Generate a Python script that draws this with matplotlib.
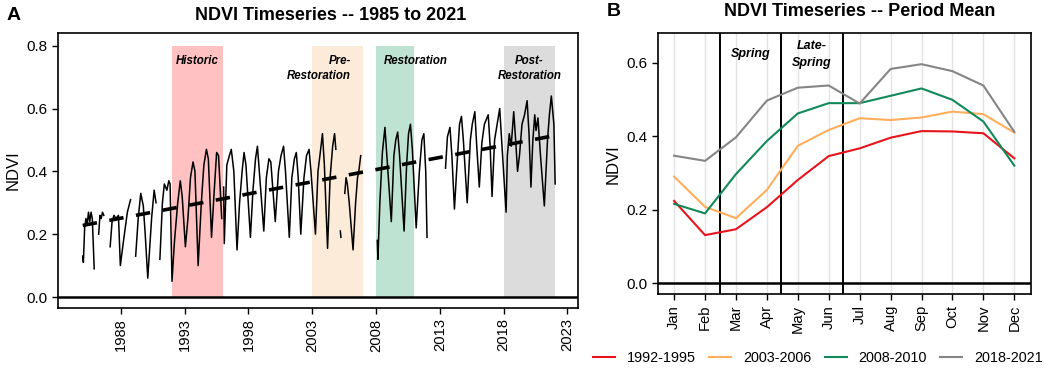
import matplotlib
matplotlib.use("Agg")
import matplotlib.pyplot as plt
import numpy as np

plt.rcParams['font.family'] = ['Liberation Sans', 'DejaVu Sans']

# ---- Panel A: NDVI time series (decimal year, NDVI); NaN breaks the line at data gaps
ts_year = [
    1985.0, 1985.05, 1985.15, 1985.25, 1985.35, 1985.45, 1985.55, 1985.65, 1985.75, 1985.9, np.nan,
    1986.25, 1986.35, 1986.45, 1986.55, 1986.65, np.nan,
    1987.15, 1987.3, 1987.45, 1987.6, 1987.8, 1987.95, 1988.2, 1988.5, 1988.75, np.nan,
    1989.15, 1989.35, 1989.55, 1989.75, 1989.9, 1990.1, 1990.4, 1990.6, 1990.75, np.nan,
    1991.05, 1991.25, 1991.4, 1991.6, 1991.75, 1991.85, 1992.0, 1992.2, 1992.45, 1992.65, 1992.8,
    1993.05, 1993.25, 1993.45, 1993.65, 1993.8, 1994.05, 1994.3, 1994.5, 1994.7, 1994.85,
    1995.1, 1995.3, 1995.5, 1995.65, 1995.9, np.nan,
    1996.05, 1996.1, 1996.3, 1996.5, 1996.65, 1996.85, 1997.1, 1997.3, 1997.5, 1997.65, 1997.8,
    1998.15, 1998.35, 1998.55, 1998.7, 1998.85, 1999.2, 1999.4, 1999.6, 1999.75,
    2000.1, 2000.35, 2000.55, 2000.75, 2000.9, 2001.2, 2001.4, 2001.6, 2001.75, 2001.9,
    2002.1, 2002.35, 2002.55, 2002.75, 2002.9, 2003.25, 2003.45, 2003.6, 2003.8, 2003.95,
    2004.2, 2004.4, 2004.6, 2004.75, 2004.85, np.nan,
    2005.2, 2005.25, np.nan,
    2005.55, 2005.65, 2005.75, 2005.9, 2006.2, 2006.4, 2006.55, 2006.65, 2006.8, np.nan,
    2008.1, 2008.15, 2008.3, 2008.5, 2008.7, 2008.85, 2009.2, 2009.4, 2009.55, 2009.7, 2009.85,
    2010.2, 2010.4, 2010.55, 2010.7, 2010.85, 2011.15, 2011.4, 2011.6, 2011.75, 2011.9, 2012.0, np.nan,
    2013.45, 2013.6, 2013.8, 2013.95, 2014.15, 2014.35, 2014.55, 2014.7, 2014.85,
    2015.15, 2015.4, 2015.55, 2015.75, 2015.9, 2016.1, 2016.3, 2016.5, 2016.8, 2016.95,
    2017.1, 2017.3, 2017.5, 2017.7, 2017.85, 2018.2, 2018.3, 2018.45, 2018.6, 2018.8, 2018.95,
    2019.1, 2019.25, 2019.45, 2019.65, 2019.85, 2020.0, 2020.15, 2020.3, 2020.45, 2020.55, 2020.7,
    2020.9, 2021.2, 2021.45, 2021.6, 2021.75, 2021.95, 2022.05,
]
ts_ndvi = [
    0.13, 0.11, 0.22, 0.25, 0.23, 0.27, 0.24, 0.27, 0.25, 0.09, np.nan,
    0.20, 0.26, 0.25, 0.27, 0.26, np.nan,
    0.16, 0.24, 0.26, 0.25, 0.26, 0.10, 0.18, 0.27, 0.31, np.nan,
    0.13, 0.25, 0.33, 0.29, 0.20, 0.06, 0.25, 0.34, 0.30, np.nan,
    0.12, 0.30, 0.36, 0.34, 0.37, 0.36, 0.05, 0.18, 0.30, 0.37, 0.32,
    0.16, 0.25, 0.38, 0.43, 0.40, 0.10, 0.30, 0.42, 0.47, 0.44,
    0.19, 0.33, 0.46, 0.45, 0.25, np.nan,
    0.35, 0.17, 0.42, 0.45, 0.47, 0.40, 0.15, 0.30, 0.40, 0.46, 0.42,
    0.19, 0.34, 0.44, 0.48, 0.40, 0.21, 0.38, 0.44, 0.43,
    0.24, 0.40, 0.45, 0.48, 0.40, 0.19, 0.38, 0.44, 0.46, 0.38,
    0.20, 0.38, 0.45, 0.47, 0.40, 0.20, 0.40, 0.45, 0.52, 0.42,
    0.155, 0.38, 0.48, 0.52, 0.47, np.nan,
    0.21, 0.19, np.nan,
    0.33, 0.38, 0.36, 0.30, 0.15, 0.30, 0.38, 0.40, 0.45, np.nan,
    0.18, 0.12, 0.30, 0.46, 0.54, 0.45, 0.24, 0.45, 0.50, 0.525, 0.45,
    0.21, 0.42, 0.52, 0.55, 0.47, 0.22, 0.40, 0.50, 0.52, 0.40, 0.19, np.nan,
    0.41, 0.51, 0.54, 0.45, 0.28, 0.42, 0.55, 0.575, 0.50,
    0.30, 0.50, 0.55, 0.59, 0.48, 0.35, 0.49, 0.55, 0.58, 0.48,
    0.32, 0.50, 0.55, 0.60, 0.50, 0.27, 0.45, 0.52, 0.48, 0.59, 0.50,
    0.40, 0.45, 0.55, 0.58, 0.625, 0.52, 0.35, 0.50, 0.58, 0.53, 0.57,
    0.45, 0.29, 0.50, 0.58, 0.64, 0.55, 0.36,
]

periods = ["Historic", "Pre-\nRestoration", "Restoration", "Post-\nRestoration"]
period_start = [1992.0, 2003.0, 2008.0, 2018.0]
period_end = [1996.0, 2007.0, 2011.0, 2022.0]
period_fill = ["#FFC1C1", "#FDEBD9", "#BFE3D3", "#DCDCDC"]

year_ticks = [1988, 1993, 1998, 2003, 2008, 2013, 2018, 2023]

# ---- Panel B: monthly means per period
months = ["Jan", "Feb", "Mar", "Apr", "May", "Jun", "Jul", "Aug", "Sep", "Oct", "Nov", "Dec"]
ndvi_1992_1995 = [0.224, 0.131, 0.147, 0.207, 0.281, 0.346, 0.367, 0.396, 0.414, 0.413, 0.408, 0.340]
ndvi_2003_2006 = [0.290, 0.208, 0.177, 0.254, 0.374, 0.417, 0.449, 0.444, 0.451, 0.467, 0.460, 0.410]
ndvi_2008_2010 = [0.216, 0.190, 0.297, 0.387, 0.462, 0.490, 0.490, 0.510, 0.530, 0.499, 0.440, 0.320]
ndvi_2018_2021 = [0.347, 0.333, 0.397, 0.497, 0.532, 0.538, 0.489, 0.583, 0.596, 0.577, 0.538, 0.412]
series_labels = ["1992-1995", "2003-2006", "2008-2010", "2018-2021"]
series_colors = ["#E8141C", "#FFAE5C", "#11895A", "#858585"]

season_breaks = [2.48, 4.45, 6.45]
season_labels = ["Spring", "Late-\nSpring"]
season_x = [3.46, 5.45]

fig = plt.figure(figsize=(10.45, 3.68), dpi=100)
axA = fig.add_axes([0.0555, 0.163, 0.4976, 0.747])
axB = fig.add_axes([0.6294, 0.2003, 0.3572, 0.7092])

# Panel A
for name, x0, x1, c in zip(periods, period_start, period_end, period_fill):
    axA.fill_between([x0, x1], 0, 0.8, color=c, lw=0, zorder=0)
lab_ha = ["center", "right", "center", "center"]
lab_x = [1994.0, 2006.05, 2011.1, 2020.05]
for name, x, ha in zip(periods, lab_x, lab_ha):
    axA.text(x, 0.77, name, ha=ha, va="top", fontsize=8.3, fontweight="bold",
             fontstyle="italic", linespacing=1.35)

axA.plot(ts_year, ts_ndvi, color="black", lw=1.1, zorder=3)
yr = np.array(ts_year)
nd = np.array(ts_ndvi)
ok = ~np.isnan(nd)
coef = np.polyfit(yr[ok], nd[ok], 1)
trend_x = np.array([yr[ok].min(), 2021.65])
axA.plot(trend_x, np.polyval(coef, trend_x), color="black", lw=2.6,
         linestyle=(0, (4, 3.5)), zorder=4)
axA.axhline(0, color="black", lw=1.8, zorder=2)

axA.set_xlim(1983.06, 2023.84)
axA.set_ylim(-0.035, 0.84)
axA.set_yticks([0.0, 0.2, 0.4, 0.6, 0.8])
axA.set_yticklabels(["0.0", "0.2", "0.4", "0.6", "0.8"])
axA.set_xticks(year_ticks)
axA.set_xticklabels([str(y) for y in year_ticks], rotation=90)
axA.set_ylabel("NDVI", fontsize=12, labelpad=4)

# Panel B
x = np.arange(1, 13)
for m in x:
    axB.axvline(m, color="#E3E3E3", lw=1.0, zorder=0)
for b in season_breaks:
    axB.axvline(b, color="black", lw=1.4, zorder=3)
axB.text(season_x[0], 0.623, season_labels[0], ha="center", va="center", fontsize=9,
         fontweight="bold", fontstyle="italic")
axB.text(season_x[1], 0.623, season_labels[1], ha="center", va="center", fontsize=9,
         fontweight="bold", fontstyle="italic", linespacing=1.5)
axB.axhline(0, color="black", lw=1.8, zorder=2)
for vals, lab, col in zip([ndvi_1992_1995, ndvi_2003_2006, ndvi_2008_2010, ndvi_2018_2021],
                          series_labels, series_colors):
    axB.plot(x, vals, color=col, lw=1.5, label=lab, zorder=4)

axB.set_xlim(0.47, 12.54)
axB.set_ylim(-0.03, 0.68)
axB.set_yticks([0.0, 0.2, 0.4, 0.6])
axB.set_yticklabels(["0.0", "0.2", "0.4", "0.6"])
axB.set_xticks(x)
axB.set_xticklabels(months, rotation=90)
axB.set_ylabel("NDVI", fontsize=12, labelpad=4)

for ax in (axA, axB):
    for s in ax.spines.values():
        s.set_linewidth(1.2)
    ax.tick_params(length=4, width=1.0, color="black", direction="out")
    ax.tick_params(axis="y", labelsize=11)
    ax.tick_params(axis="x", labelsize=10.6)

fig.text(331 / 1045, 1 - 16 / 368, "NDVI Timeseries -- 1985 to 2021", ha="center",
         va="center", fontsize=13, fontweight="bold")
fig.text(860 / 1045, 1 - 12 / 368, "NDVI Timeseries -- Period Mean", ha="center",
         va="center", fontsize=13, fontweight="bold")
fig.text(14 / 1045, 1 - 15 / 368, "A", ha="center", va="center", fontsize=14, fontweight="bold")
fig.text(614 / 1045, 1 - 12 / 368, "B", ha="center", va="center", fontsize=14, fontweight="bold")

fig.legend(loc="center", bbox_to_anchor=(818 / 1045, 1 - 358 / 368), ncol=4, frameon=False,
           fontsize=10.4, handlelength=1.53, handletextpad=0.83, columnspacing=0.9)

fig.savefig("out.png", dpi=100)
